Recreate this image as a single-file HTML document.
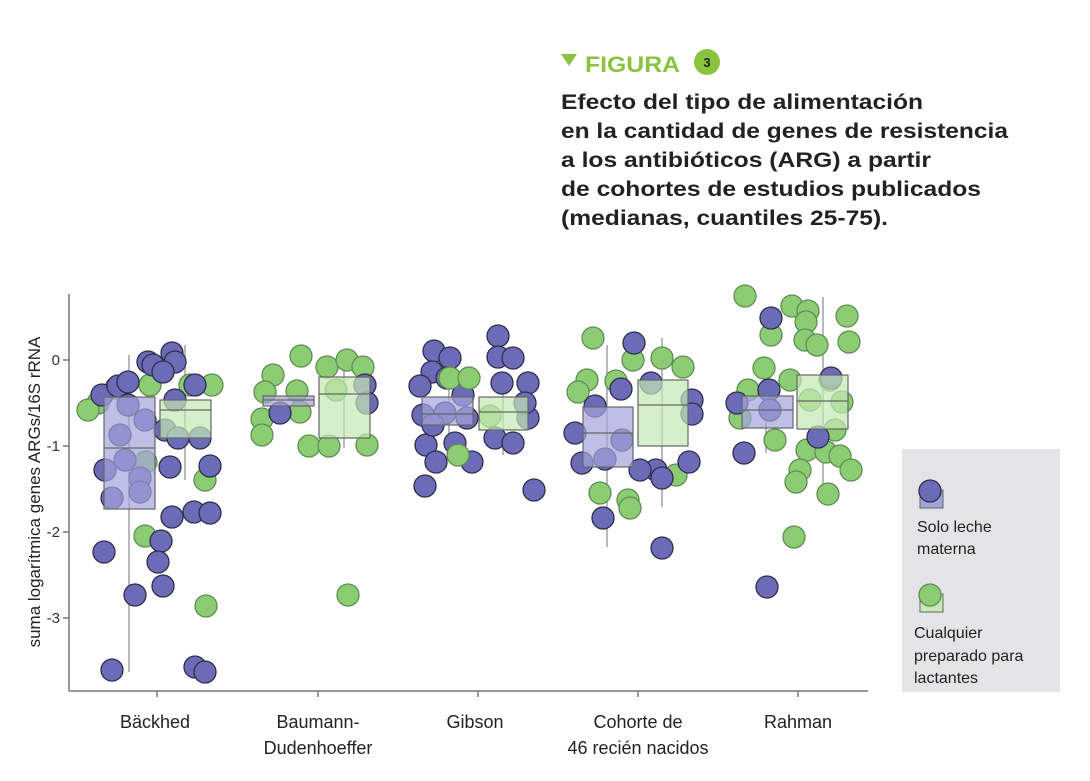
<!DOCTYPE html>
<html><head><meta charset="utf-8"><style>
body{margin:0;background:#fff;width:1090px;height:781px;overflow:hidden}
svg{display:block}
.p{fill:#6b6bb8;stroke:#2e2e48;stroke-width:1.3}
.g{fill:#8ccd74;stroke:#5e8c52;stroke-width:1.3}
text{font-family:"Liberation Sans",sans-serif}
</style></head><body>
<svg width="1090" height="781" viewBox="0 0 1090 781">
<!-- header -->
<polygon points="561,54 577,54 569,66" fill="#8ac43f"/>
<text x="585" y="72" font-size="22" font-weight="bold" fill="#8ac43f" textLength="95" lengthAdjust="spacingAndGlyphs">FIGURA</text>
<circle cx="707" cy="62" r="13" fill="#8ac43f"/>
<text x="707" y="67" font-size="13" font-weight="bold" fill="#222" text-anchor="middle">3</text>
<g font-size="21" font-weight="bold" fill="#222">
<text x="561" y="109" textLength="362" lengthAdjust="spacingAndGlyphs">Efecto del tipo de alimentación</text>
<text x="561" y="138" textLength="447" lengthAdjust="spacingAndGlyphs">en la cantidad de genes de resistencia</text>
<text x="561" y="167" textLength="370" lengthAdjust="spacingAndGlyphs">a los antibióticos (ARG) a partir</text>
<text x="561" y="196" textLength="420" lengthAdjust="spacingAndGlyphs">de cohortes de estudios publicados</text>
<text x="561" y="225" textLength="327" lengthAdjust="spacingAndGlyphs">(medianas, cuantiles 25-75).</text>
</g>
<!-- axes -->
<g stroke="#777" stroke-width="1.5" fill="none">
<line x1="69" y1="294" x2="69" y2="691"/>
<line x1="69" y1="691" x2="868" y2="691"/>
<line x1="63" y1="360" x2="69" y2="360"/><line x1="63" y1="446" x2="69" y2="446"/>
<line x1="63" y1="532" x2="69" y2="532"/><line x1="63" y1="618" x2="69" y2="618"/>
<line x1="157" y1="691" x2="157" y2="697"/><line x1="318" y1="691" x2="318" y2="697"/>
<line x1="478" y1="691" x2="478" y2="697"/><line x1="638" y1="691" x2="638" y2="697"/>
<line x1="798" y1="691" x2="798" y2="697"/>
</g>
<g font-size="15" fill="#333" text-anchor="end">
<text x="60" y="365">0</text><text x="60" y="451">-1</text><text x="60" y="537">-2</text><text x="60" y="623">-3</text>
</g>
<text transform="translate(40,492) rotate(-90)" font-size="17" fill="#222" text-anchor="middle">suma logarítmica genes ARGs/16S rRNA</text>
<g font-size="18" fill="#222" text-anchor="middle">
<text x="155" y="728">Bäckhed</text>
<text x="318" y="728">Baumann-</text><text x="318" y="754">Dudenhoeffer</text>
<text x="475" y="728">Gibson</text>
<text x="638" y="728">Cohorte de</text><text x="638" y="754">46 recién nacidos</text>
<text x="798" y="728">Rahman</text>
</g>
<!-- whiskers -->
<g stroke="#888" stroke-width="1.2">
<line x1="129" y1="355" x2="129" y2="672"/><line x1="185" y1="345" x2="185" y2="480"/>
<line x1="344" y1="356" x2="344" y2="448"/>
<line x1="449" y1="350" x2="449" y2="460"/><line x1="503" y1="380" x2="503" y2="455"/>
<line x1="607" y1="345" x2="607" y2="547"/><line x1="662" y1="338" x2="662" y2="507"/>
<line x1="766" y1="362" x2="766" y2="453"/><line x1="823" y1="297" x2="823" y2="494"/>
</g>
<!-- points -->
<g>
<circle class="g" cx="98" cy="403" r="11"/><circle class="g" cx="88" cy="410" r="11"/><circle class="g" cx="116" cy="388" r="11"/><circle class="g" cx="150" cy="385" r="11"/><circle class="g" cx="190" cy="385" r="11"/><circle class="g" cx="212" cy="385" r="11"/><circle class="g" cx="146" cy="462" r="11"/><circle class="g" cx="205" cy="480" r="11"/><circle class="g" cx="145" cy="536" r="11"/><circle class="g" cx="206" cy="606" r="11"/>
<circle class="p" cx="102" cy="395" r="11"/><circle class="p" cx="118" cy="386" r="11"/><circle class="p" cx="128" cy="382" r="11"/><circle class="p" cx="148" cy="362" r="11"/><circle class="p" cx="153" cy="365" r="11"/><circle class="p" cx="172" cy="353" r="11"/><circle class="p" cx="175" cy="362" r="11"/><circle class="p" cx="163" cy="372" r="11"/><circle class="p" cx="175" cy="400" r="11"/><circle class="p" cx="195" cy="385" r="11"/><circle class="p" cx="128" cy="405" r="11"/><circle class="p" cx="120" cy="435" r="11"/><circle class="p" cx="145" cy="420" r="11"/><circle class="p" cx="165" cy="430" r="11"/><circle class="p" cx="105" cy="470" r="11"/><circle class="p" cx="112" cy="498" r="11"/><circle class="p" cx="140" cy="478" r="11"/><circle class="p" cx="140" cy="492" r="11"/><circle class="p" cx="125" cy="460" r="11"/><circle class="p" cx="200" cy="438" r="11"/><circle class="p" cx="178" cy="438" r="11"/><circle class="p" cx="170" cy="467" r="11"/><circle class="p" cx="210" cy="466" r="11"/><circle class="p" cx="172" cy="517" r="11"/><circle class="p" cx="194" cy="512" r="11"/><circle class="p" cx="210" cy="513" r="11"/><circle class="p" cx="104" cy="552" r="11"/><circle class="p" cx="161" cy="541" r="11"/><circle class="p" cx="158" cy="562" r="11"/><circle class="p" cx="163" cy="586" r="11"/><circle class="p" cx="135" cy="595" r="11"/><circle class="p" cx="112" cy="670" r="11"/><circle class="p" cx="195" cy="667" r="11"/><circle class="p" cx="205" cy="672" r="11"/>
<circle class="g" cx="273" cy="375" r="11"/><circle class="g" cx="265" cy="392" r="11"/><circle class="g" cx="301" cy="356" r="11"/><circle class="g" cx="327" cy="367" r="11"/><circle class="g" cx="347" cy="360" r="11"/><circle class="g" cx="363" cy="367" r="11"/><circle class="g" cx="297" cy="391" r="11"/><circle class="g" cx="300" cy="412" r="11"/><circle class="g" cx="262" cy="419" r="11"/><circle class="g" cx="262" cy="435" r="11"/><circle class="g" cx="309" cy="446" r="11"/><circle class="g" cx="329" cy="446" r="11"/><circle class="g" cx="367" cy="445" r="11"/><circle class="g" cx="348" cy="595" r="11"/><circle class="g" cx="336" cy="390" r="11"/>
<circle class="p" cx="280" cy="413" r="11"/><circle class="p" cx="365" cy="385" r="11"/><circle class="p" cx="367" cy="403" r="11"/>
<circle class="p" cx="434" cy="351" r="11"/><circle class="p" cx="450" cy="358" r="11"/><circle class="p" cx="432" cy="372" r="11"/><circle class="p" cx="420" cy="386" r="11"/><circle class="p" cx="447" cy="378" r="11"/><circle class="p" cx="498" cy="336" r="11"/><circle class="p" cx="498" cy="357" r="11"/><circle class="p" cx="513" cy="358" r="11"/><circle class="p" cx="502" cy="383" r="11"/><circle class="p" cx="528" cy="383" r="11"/><circle class="p" cx="463" cy="395" r="11"/><circle class="p" cx="423" cy="415" r="11"/><circle class="p" cx="445" cy="413" r="11"/><circle class="p" cx="467" cy="418" r="11"/><circle class="p" cx="528" cy="418" r="11"/><circle class="p" cx="525" cy="403" r="11"/><circle class="p" cx="426" cy="445" r="11"/><circle class="p" cx="436" cy="462" r="11"/><circle class="p" cx="455" cy="443" r="11"/><circle class="p" cx="472" cy="462" r="11"/><circle class="p" cx="495" cy="438" r="11"/><circle class="p" cx="513" cy="443" r="11"/><circle class="p" cx="425" cy="486" r="11"/><circle class="p" cx="534" cy="490" r="11"/><circle class="p" cx="433" cy="425" r="11"/>
<circle class="g" cx="450" cy="378" r="11"/><circle class="g" cx="469" cy="378" r="11"/><circle class="g" cx="458" cy="455" r="11"/><circle class="g" cx="490" cy="416" r="11"/>
<circle class="g" cx="593" cy="338" r="11"/><circle class="g" cx="587" cy="380" r="11"/><circle class="g" cx="578" cy="392" r="11"/><circle class="g" cx="616" cy="381" r="11"/><circle class="g" cx="633" cy="360" r="11"/><circle class="g" cx="662" cy="358" r="11"/><circle class="g" cx="683" cy="367" r="11"/><circle class="g" cx="600" cy="493" r="11"/><circle class="g" cx="628" cy="500" r="11"/><circle class="g" cx="630" cy="508" r="11"/><circle class="g" cx="676" cy="475" r="11"/>
<circle class="p" cx="634" cy="343" r="11"/><circle class="p" cx="621" cy="389" r="11"/><circle class="p" cx="651" cy="383" r="11"/><circle class="p" cx="595" cy="406" r="11"/><circle class="p" cx="575" cy="433" r="11"/><circle class="p" cx="582" cy="463" r="11"/><circle class="p" cx="605" cy="459" r="11"/><circle class="p" cx="622" cy="440" r="11"/><circle class="p" cx="692" cy="400" r="11"/><circle class="p" cx="692" cy="414" r="11"/><circle class="p" cx="689" cy="462" r="11"/><circle class="p" cx="656" cy="470" r="11"/><circle class="p" cx="640" cy="470" r="11"/><circle class="p" cx="662" cy="478" r="11"/><circle class="p" cx="603" cy="518" r="11"/><circle class="p" cx="662" cy="548" r="11"/>
<circle class="g" cx="745" cy="296" r="11"/><circle class="g" cx="792" cy="306" r="11"/><circle class="g" cx="808" cy="311" r="11"/><circle class="g" cx="806" cy="322" r="11"/><circle class="g" cx="847" cy="316" r="11"/><circle class="g" cx="849" cy="342" r="11"/><circle class="g" cx="771" cy="335" r="11"/><circle class="g" cx="805" cy="340" r="11"/><circle class="g" cx="817" cy="345" r="11"/><circle class="g" cx="764" cy="368" r="11"/><circle class="g" cx="790" cy="380" r="11"/><circle class="g" cx="748" cy="390" r="11"/><circle class="g" cx="830" cy="380" r="11"/><circle class="g" cx="810" cy="400" r="11"/><circle class="g" cx="842" cy="402" r="11"/><circle class="g" cx="835" cy="430" r="11"/><circle class="g" cx="775" cy="440" r="11"/><circle class="g" cx="807" cy="450" r="11"/><circle class="g" cx="826" cy="452" r="11"/><circle class="g" cx="840" cy="456" r="11"/><circle class="g" cx="851" cy="470" r="11"/><circle class="g" cx="800" cy="470" r="11"/><circle class="g" cx="796" cy="482" r="11"/><circle class="g" cx="794" cy="537" r="11"/><circle class="g" cx="828" cy="494" r="11"/><circle class="g" cx="740" cy="418" r="11"/>
<circle class="p" cx="771" cy="318" r="11"/><circle class="p" cx="737" cy="403" r="11"/><circle class="p" cx="769" cy="390" r="11"/><circle class="p" cx="770" cy="410" r="11"/><circle class="p" cx="831" cy="378" r="11"/><circle class="p" cx="744" cy="453" r="11"/><circle class="p" cx="818" cy="437" r="11"/><circle class="p" cx="767" cy="587" r="11"/>
</g>
<!-- boxes -->
<g stroke="#666" stroke-width="1.2">
<rect x="104" y="397" width="51" height="112" fill="#a4a4dc" fill-opacity="0.7"/><line x1="104" y1="448" x2="155" y2="448"/>
<rect x="160" y="400" width="51" height="38" fill="#c5e8b5" fill-opacity="0.7"/><line x1="160" y1="410" x2="211" y2="410"/>
<rect x="263" y="396" width="51" height="10" fill="#a4a4dc" fill-opacity="0.7"/><line x1="263" y1="400" x2="314" y2="400"/>
<rect x="319" y="377" width="51" height="61" fill="#c5e8b5" fill-opacity="0.7"/><line x1="319" y1="394" x2="370" y2="394"/>
<rect x="422" y="397" width="51" height="28" fill="#a4a4dc" fill-opacity="0.7"/><line x1="422" y1="414" x2="473" y2="414"/>
<rect x="479" y="397" width="49" height="33" fill="#c5e8b5" fill-opacity="0.7"/><line x1="479" y1="412" x2="528" y2="412"/>
<rect x="583" y="407" width="50" height="60" fill="#a4a4dc" fill-opacity="0.7"/><line x1="583" y1="433" x2="633" y2="433"/>
<rect x="638" y="380" width="50" height="66" fill="#c5e8b5" fill-opacity="0.7"/><line x1="638" y1="405" x2="688" y2="405"/>
<rect x="742" y="396" width="51" height="32" fill="#a4a4dc" fill-opacity="0.7"/><line x1="742" y1="410" x2="793" y2="410"/>
<rect x="797" y="375" width="51" height="54" fill="#c5e8b5" fill-opacity="0.7"/><line x1="797" y1="401" x2="848" y2="401"/>
</g>
<!-- legend -->
<rect x="902" y="449" width="158" height="243" fill="#e4e4e6"/>
<rect x="920" y="490" width="23" height="18" fill="#a4a4dc" stroke="#666"/>
<circle class="p" cx="930" cy="491" r="11"/>
<rect x="920" y="594" width="23" height="18" fill="#c5e8b5" stroke="#666"/>
<circle class="g" cx="930" cy="595" r="11"/>
<g font-size="16" fill="#222">
<text x="917" y="532">Solo leche</text><text x="917" y="554">materna</text>
<text x="914" y="638">Cualquier</text><text x="914" y="661">preparado para</text><text x="914" y="683">lactantes</text>
</g>
</svg>
</body></html>
